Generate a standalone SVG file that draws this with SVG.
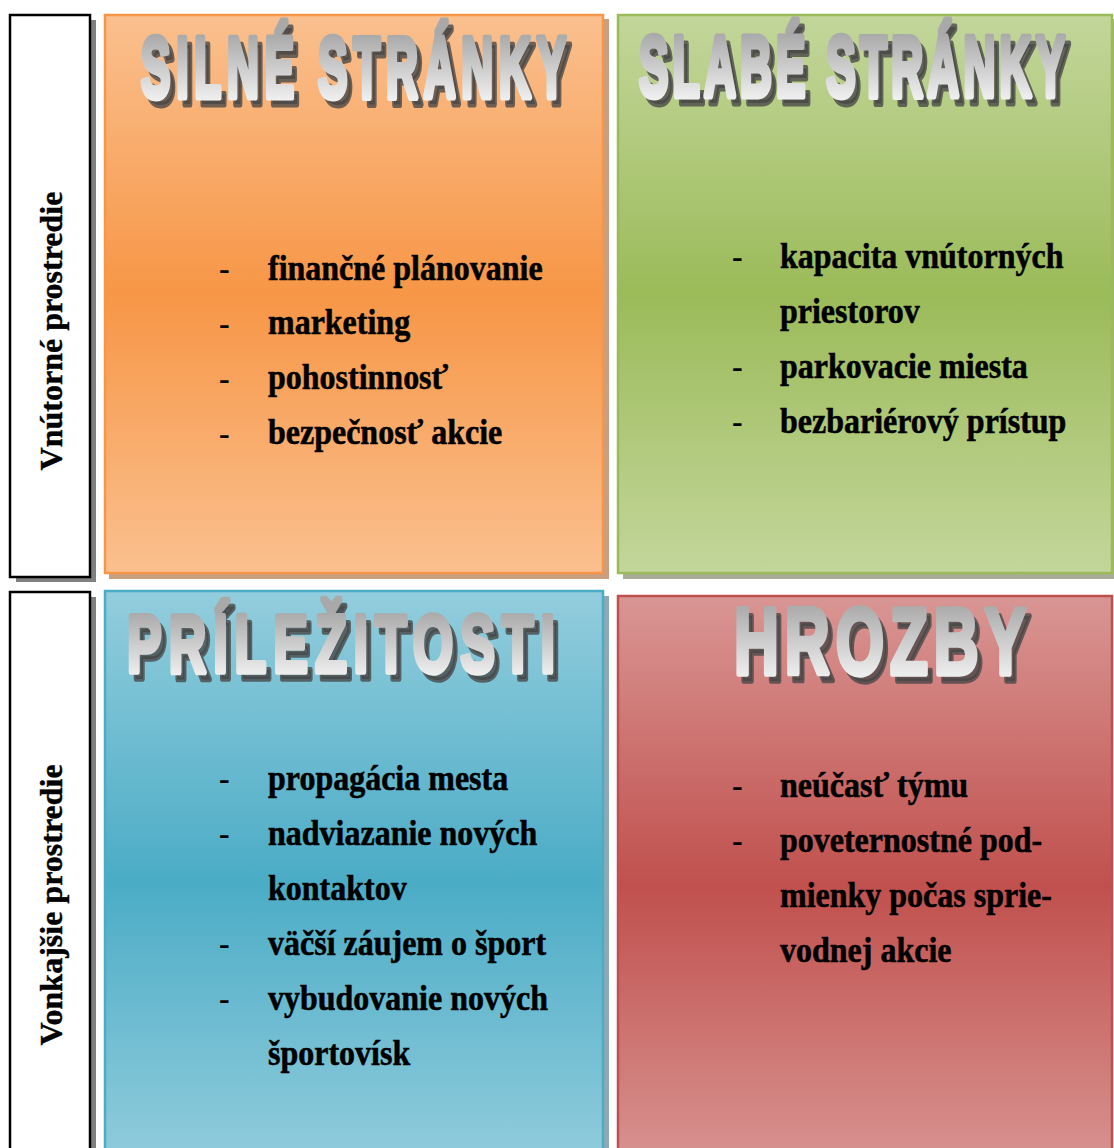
<svg xmlns="http://www.w3.org/2000/svg" width="1114" height="1148" viewBox="0 0 1114 1148">
  <defs>
    <linearGradient id="gOrange" x1="0" y1="0" x2="0" y2="1">
      <stop offset="0" stop-color="#fac08f"/>
      <stop offset="0.5" stop-color="#f79646"/>
      <stop offset="1" stop-color="#fac08f"/>
    </linearGradient>
    <linearGradient id="gGreen" x1="0" y1="0" x2="0" y2="1">
      <stop offset="0" stop-color="#c3d69b"/>
      <stop offset="0.5" stop-color="#9bbb59"/>
      <stop offset="1" stop-color="#c3d69b"/>
    </linearGradient>
    <linearGradient id="gBlue" x1="0" y1="0" x2="0" y2="1">
      <stop offset="0" stop-color="#93cddd"/>
      <stop offset="0.5" stop-color="#4bacc6"/>
      <stop offset="1" stop-color="#93cddd"/>
    </linearGradient>
    <linearGradient id="gRed" x1="0" y1="0" x2="0" y2="1">
      <stop offset="0" stop-color="#d99694"/>
      <stop offset="0.5" stop-color="#c0504d"/>
      <stop offset="1" stop-color="#d99694"/>
    </linearGradient>
    <linearGradient id="gSilver" x1="0" y1="0" x2="0" y2="1">
      <stop offset="0.15" stop-color="#a9a9a9"/>
      <stop offset="1" stop-color="#ffffff"/>
    </linearGradient>
    <style>
      .side { fill: #ffffff; stroke: #000000; stroke-width: 2.5; }
      .sideShadow { fill: #808080; }
      .side-label { font-family: "Liberation Serif", "Times New Roman", serif; font-weight: bold; font-size: 32px; fill: #000; stroke: #000; stroke-width: 0.4; text-anchor: middle; }
      .head { font-family: "Liberation Sans", Arial, sans-serif; font-weight: bold; fill: url(#gSilver); stroke: url(#gSilver); stroke-width: 3.5; stroke-linejoin: round; }
      .headShadow { font-family: "Liberation Sans", Arial, sans-serif; font-weight: bold; fill: #474747; fill-opacity: 0.78; stroke: #474747; stroke-opacity: 0.78; stroke-width: 3.5; stroke-linejoin: round; }
      .item { font-family: "Liberation Serif", "Times New Roman", serif; font-weight: bold; font-size: 32px; fill: #000; stroke: #000; stroke-width: 0.5; }
      .dash { font-family: "Liberation Serif", "Times New Roman", serif; font-weight: normal; font-size: 32px; fill: #000; }
    </style>
  </defs>

  <rect width="1114" height="1148" fill="#ffffff"/>

  <!-- side label: internal environment -->
  <g id="label-internal">
    <rect class="sideShadow" x="16" y="20" width="80" height="562"/>
    <rect class="side" x="10" y="15" width="80" height="562"/>
    <text class="side-label" transform="translate(62,331) rotate(-90)">Vnútorné prostredie</text>
  </g>

  <!-- side label: external environment -->
  <g id="label-external">
    <rect class="sideShadow" x="16" y="597" width="80" height="580"/>
    <rect class="side" x="10" y="592" width="80" height="580"/>
    <text class="side-label" transform="translate(62,905) rotate(-90)">Vonkajšie prostredie</text>
  </g>

  <!-- strengths -->
  <g id="q-strengths">
    <rect x="109" y="19" width="500" height="560" fill="#c99f80"/>
    <rect x="105" y="15" width="498" height="558" fill="url(#gOrange)" stroke="#f79646" stroke-width="2.5"/>
    <text class="headShadow" font-size="44" transform="translate(146,104) scale(1,1.94)" textLength="425" lengthAdjust="spacing">SILNÉ STRÁNKY</text>
    <text class="head" font-size="44" transform="translate(141,97) scale(1,1.94)" textLength="425" lengthAdjust="spacing">SILNÉ STRÁNKY</text>
    <text class="dash" transform="translate(219,280) scale(1,1.15)">-</text>
    <text class="dash" transform="translate(219,335) scale(1,1.15)">-</text>
    <text class="dash" transform="translate(219,390) scale(1,1.15)">-</text>
    <text class="dash" transform="translate(219,445) scale(1,1.15)">-</text>
    <text class="item" transform="translate(268,280) scale(1,1.15)">finančné plánovanie</text>
    <text class="item" transform="translate(268,334) scale(1,1.15)">marketing</text>
    <text class="item" transform="translate(268,389) scale(1,1.15)">pohostinnosť</text>
    <text class="item" transform="translate(268,444) scale(1,1.15)">bezpečnosť akcie</text>
  </g>

  <!-- weaknesses -->
  <g id="q-weaknesses">
    <rect x="623" y="19" width="500" height="560" fill="#a8ad98"/>
    <rect x="618" y="15" width="494" height="558" fill="url(#gGreen)" stroke="#9bbb59" stroke-width="2.5"/>
    <text class="headShadow" font-size="44" transform="translate(644,103) scale(1,1.94)" textLength="426" lengthAdjust="spacing">SLABÉ STRÁNKY</text>
    <text class="head" font-size="44" transform="translate(639,96) scale(1,1.94)" textLength="426" lengthAdjust="spacing">SLABÉ STRÁNKY</text>
    <text class="dash" transform="translate(732,268) scale(1,1.15)">-</text>
    <text class="dash" transform="translate(732,378) scale(1,1.15)">-</text>
    <text class="dash" transform="translate(732,433) scale(1,1.15)">-</text>
    <text class="item" transform="translate(780,268) scale(1,1.15)">kapacita vnútorných</text>
    <text class="item" transform="translate(780,323) scale(1,1.15)">priestorov</text>
    <text class="item" transform="translate(780,378) scale(1,1.15)">parkovacie miesta</text>
    <text class="item" transform="translate(780,433) scale(1,1.15)">bezbariérový prístup</text>
  </g>

  <!-- opportunities -->
  <g id="q-opportunities">
    <rect x="109" y="596" width="500" height="580" fill="#8fa9b3"/>
    <rect x="105" y="591" width="498" height="580" fill="url(#gBlue)" stroke="#4bacc6" stroke-width="2.5"/>
    <text class="headShadow" font-size="52" transform="translate(132,679) scale(1,1.58)" textLength="428" lengthAdjust="spacing">PRÍLEŽITOSTI</text>
    <text class="head" font-size="52" transform="translate(127,672) scale(1,1.58)" textLength="428" lengthAdjust="spacing">PRÍLEŽITOSTI</text>
    <text class="dash" transform="translate(219,790) scale(1,1.15)">-</text>
    <text class="dash" transform="translate(219,845) scale(1,1.15)">-</text>
    <text class="dash" transform="translate(219,955) scale(1,1.15)">-</text>
    <text class="dash" transform="translate(219,1010) scale(1,1.15)">-</text>
    <text class="item" transform="translate(268,790) scale(1,1.15)">propagácia mesta</text>
    <text class="item" transform="translate(268,845) scale(1,1.15)">nadviazanie nových</text>
    <text class="item" transform="translate(268,900) scale(1,1.15)">kontaktov</text>
    <text class="item" transform="translate(268,955) scale(1,1.15)">väčší záujem o šport</text>
    <text class="item" transform="translate(268,1010) scale(1,1.15)">vybudovanie nových</text>
    <text class="item" transform="translate(268,1065) scale(1,1.15)">športovísk</text>
  </g>

  <!-- threats -->
  <g id="q-threats">
    <rect x="618" y="596" width="494" height="580" fill="url(#gRed)" stroke="#c0504d" stroke-width="2.5"/>
    <text class="headShadow" font-size="62" transform="translate(739,681) scale(1,1.53)" textLength="292" lengthAdjust="spacing">HROZBY</text>
    <text class="head" font-size="62" transform="translate(734,674) scale(1,1.53)" textLength="292" lengthAdjust="spacing">HROZBY</text>
    <text class="dash" transform="translate(732,797) scale(1,1.15)">-</text>
    <text class="dash" transform="translate(732,852) scale(1,1.15)">-</text>
    <text class="item" transform="translate(780,797) scale(1,1.15)">neúčasť týmu</text>
    <text class="item" transform="translate(780,852) scale(1,1.15)">poveternostné pod-</text>
    <text class="item" transform="translate(780,907) scale(1,1.15)">mienky počas sprie-</text>
    <text class="item" transform="translate(780,962) scale(1,1.15)">vodnej akcie</text>
  </g>
</svg>
